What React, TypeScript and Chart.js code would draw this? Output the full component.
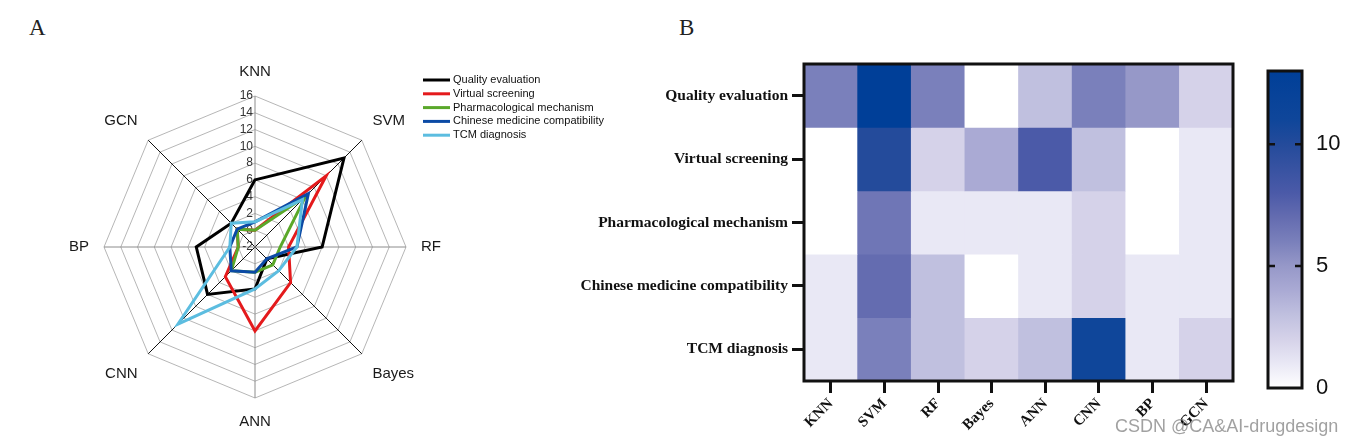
import React, { useEffect, useRef } from 'react';
import { Chart, registerables } from 'chart.js';

Chart.register(...registerables);

const SANS = "'Liberation Sans', Arial, sans-serif";
const SERIF = "'Liberation Serif', 'Times New Roman', serif";
Chart.defaults.font.family = SANS;

// ---------------- data ----------------
const methods = ['KNN', 'SVM', 'RF', 'Bayes', 'ANN', 'CNN', 'BP', 'GCN'];
const seriesNames = [
  'Quality evaluation',
  'Virtual screening',
  'Pharmacological mechanism',
  'Chinese medicine compatibility',
  'TCM diagnosis',
];
const qualityEvaluation = [6, 13, 6, 0, 3, 6, 5, 2];
const virtualScreening = [0, 10, 2, 4, 8, 3, 0, 1];
const pharmacologicalMechanism = [0, 6.5, 1, 1, 1, 2, 0, 1];
const medicineCompatibility = [1, 7, 3, 0, 1, 2, 1, 1];
const tcmDiagnosis = [1, 6, 3, 2, 3, 11, 1, 2];
const seriesValues = [
  qualityEvaluation,
  virtualScreening,
  pharmacologicalMechanism,
  medicineCompatibility,
  tcmDiagnosis,
];
const radarTicks = [-2, 0, 2, 4, 6, 8, 10, 12, 14, 16];
const colorbarTicks = [0, 5, 10];
const colorbarMax = 13;

// ---------------- styles ----------------
const seriesColors = ['#000000', '#e41a1c', '#5aa82a', '#0b4aa5', '#5cbde0'];
const colorStops: [number, string][] = [
  [0, '#ffffff'],
  [1, '#e9e8f5'],
  [2, '#d5d2e9'],
  [3, '#c0c0df'],
  [4, '#aaaad4'],
  [5, '#9698c8'],
  [6, '#7a80bb'],
  [7, '#646cb0'],
  [8, '#4b5aa8'],
  [10, '#244b9b'],
  [11, '#0f469a'],
  [13, '#003f98'],
];

function hexToRgb(h: string) {
  const n = parseInt(h.slice(1), 16);
  return [(n >> 16) & 255, (n >> 8) & 255, n & 255];
}
function heatColor(v: number) {
  if (v <= colorStops[0][0]) return colorStops[0][1];
  for (let i = 1; i < colorStops.length; i++) {
    const [v1, c1] = colorStops[i];
    if (v <= v1) {
      const [v0, c0] = colorStops[i - 1];
      const t = (v - v0) / (v1 - v0);
      const a = hexToRgb(c0);
      const b = hexToRgb(c1);
      const m = a.map((x, k) => Math.round(x + (b[k] - x) * t));
      return `rgb(${m[0]},${m[1]},${m[2]})`;
    }
  }
  return colorStops[colorStops.length - 1][1];
}

// ---------------- plugins ----------------
const radarTickPlugin = {
  id: 'radarTickLabels',
  beforeDatasetsDraw(chart: any) {
    const s = chart.scales.r;
    const ctx = chart.ctx;
    ctx.save();
    ctx.font = `12px ${SANS}`;
    ctx.fillStyle = '#333';
    ctx.textAlign = 'right';
    ctx.textBaseline = 'middle';
    radarTicks.forEach((v) => {
      const d = s.getDistanceFromCenterForValue(v);
      ctx.fillText(String(v), s.xCenter - 2, s.yCenter - d);
    });
    ctx.restore();
  },
};

const radarLegendPlugin = {
  id: 'radarLegend',
  afterDraw(chart: any) {
    const ctx = chart.ctx;
    ctx.save();
    ctx.font = `11px ${SANS}`;
    ctx.textBaseline = 'middle';
    ctx.textAlign = 'left';
    chart.data.datasets.forEach((ds: any, i: number) => {
      const y = 80 + i * 13.8;
      ctx.strokeStyle = ds.borderColor;
      ctx.lineWidth = 3;
      ctx.beginPath();
      ctx.moveTo(423, y);
      ctx.lineTo(450, y);
      ctx.stroke();
      ctx.fillStyle = '#111';
      ctx.fillText(ds.label, 453, y);
    });
    ctx.restore();
  },
};

const boxPlugin = {
  id: 'heatBox',
  afterDatasetsDraw(chart: any) {
    const { ctx, chartArea: a } = chart;
    ctx.save();
    ctx.lineWidth = 3;
    ctx.strokeStyle = '#111';
    ctx.strokeRect(a.left, a.top, a.right - a.left, a.bottom - a.top);
    ctx.restore();
  },
};

const colorbarFramePlugin = {
  id: 'colorbarFrame',
  afterDatasetsDraw(chart: any) {
    const { ctx, chartArea: a } = chart;
    const y = chart.scales.y;
    ctx.save();
    ctx.strokeStyle = '#111';
    ctx.lineWidth = 2.5;
    colorbarTicks
      .filter((v) => v > 0 && v < colorbarMax)
      .forEach((v) => {
        const py = y.getPixelForValue(v);
        ctx.beginPath();
        ctx.moveTo(a.left, py);
        ctx.lineTo(a.left + 7, py);
        ctx.moveTo(a.right - 7, py);
        ctx.lineTo(a.right, py);
        ctx.stroke();
      });
    ctx.lineWidth = 3;
    ctx.strokeRect(a.left, a.top, a.right - a.left, a.bottom - a.top);
    ctx.restore();
  },
};

export default function App() {
  const radarRef = useRef<HTMLCanvasElement>(null);
  const heatRef = useRef<HTMLCanvasElement>(null);
  const barRef = useRef<HTMLCanvasElement>(null);

  useEffect(() => {
    const radar = new Chart(radarRef.current as HTMLCanvasElement, {
      type: 'radar',
      data: {
        labels: methods,
        datasets: seriesNames.map((name, i) => ({
          label: name,
          data: seriesValues[i],
          borderColor: seriesColors[i],
          backgroundColor: 'transparent',
          borderWidth: 3,
          fill: false,
          pointRadius: 0,
          pointHoverRadius: 0,
          order: seriesNames.length - 1 - i,
        })),
      },
      options: {
        responsive: false,
        animation: false,
        events: [],
        layout: { padding: { top: 63, bottom: 14, left: 0, right: 110 } },
        plugins: { legend: { display: false }, tooltip: { enabled: false } },
        scales: {
          r: {
            min: -2,
            max: 16,
            ticks: { stepSize: 2, display: false },
            grid: { color: '#a3a3a3', lineWidth: 0.8 },
            angleLines: {
              color: (c: any) => (c.index % 2 === 1 ? '#111' : '#8c8c8c'),
              lineWidth: 1,
            },
            pointLabels: { padding: 15, color: '#1a1a1a', font: { family: SANS, size: 15 } },
          },
        },
      } as any,
      plugins: [radarTickPlugin, radarLegendPlugin],
    });

    const tickGrid = {
      drawOnChartArea: false,
      drawTicks: true,
      tickLength: 12,
      lineWidth: 3,
      color: '#111',
    };

    const heat = new Chart(heatRef.current as HTMLCanvasElement, {
      type: 'bar',
      data: {
        labels: methods,
        datasets: seriesNames.map((name, r) => ({
          label: name,
          data: methods.map(() => [r, r + 1]),
          backgroundColor: seriesValues[r].map(heatColor),
          borderWidth: 0,
          barPercentage: 1,
          categoryPercentage: 1,
          grouped: false,
        })),
      } as any,
      options: {
        responsive: false,
        animation: false,
        events: [],
        layout: { padding: { top: 64, right: 7, bottom: 0, left: 0 } },
        plugins: { legend: { display: false }, tooltip: { enabled: false } },
        scales: {
          x: {
            offset: true,
            grid: { ...tickGrid, offset: false },
            border: { display: false },
            ticks: {
              autoSkip: false,
              minRotation: 45,
              maxRotation: 45,
              padding: 2,
              color: '#111',
              font: { family: SERIF, size: 15, weight: 'bold' },
            },
            afterFit: (axis: any) => {
              axis.height = 64;
            },
          },
          y: {
            type: 'linear',
            min: 0,
            max: seriesNames.length,
            reverse: true,
            afterBuildTicks: (axis: any) => {
              axis.ticks = seriesNames.map((_, i) => ({ value: i + 0.5 }));
            },
            grid: tickGrid,
            border: { display: false },
            ticks: {
              callback: (_v: any, i: number) => seriesNames[i],
              padding: 4,
              color: '#111',
              font: { family: SERIF, size: 15.5, weight: 'bold' },
            },
            afterFit: (axis: any) => {
              axis.width = 244;
            },
          },
        },
      } as any,
      plugins: [boxPlugin],
    });

    const bar = new Chart(barRef.current as HTMLCanvasElement, {
      type: 'bar',
      data: {
        labels: [''],
        datasets: [
          {
            data: [[0, colorbarMax]],
            backgroundColor: (c: any) => {
              const ch = c.chart;
              if (!ch.chartArea) return '#ffffff';
              const y = ch.scales.y;
              const g = ch.ctx.createLinearGradient(0, y.getPixelForValue(0), 0, y.getPixelForValue(colorbarMax));
              colorStops.forEach(([v, col]) => g.addColorStop(v / colorbarMax, col));
              return g;
            },
            borderWidth: 0,
            barPercentage: 1,
            categoryPercentage: 1,
          },
        ],
      } as any,
      options: {
        responsive: false,
        animation: false,
        events: [],
        layout: { padding: { top: 71, bottom: 57, left: 28, right: 0 } },
        plugins: { legend: { display: false }, tooltip: { enabled: false } },
        scales: {
          x: { display: false },
          y: {
            position: 'right',
            min: 0,
            max: colorbarMax,
            afterBuildTicks: (axis: any) => {
              axis.ticks = colorbarTicks.map((v) => ({ value: v }));
            },
            grid: { display: false, drawTicks: false },
            border: { display: false },
            ticks: { padding: 14, color: '#111', font: { family: SANS, size: 22 } },
            afterFit: (axis: any) => {
              axis.width = 53;
            },
          },
        },
      } as any,
      plugins: [colorbarFramePlugin],
    });

    return () => {
      radar.destroy();
      heat.destroy();
      bar.destroy();
    };
  }, []);

  const panelLabel: React.CSSProperties = {
    position: 'absolute',
    top: 16,
    font: `23px ${SERIF}`,
    lineHeight: 1,
    color: '#222',
  };

  return (
    <div
      style={{
        position: 'fixed',
        left: 0,
        top: 0,
        width: 1355,
        height: 445,
        background: '#ffffff',
        overflow: 'hidden',
      }}
    >
      <div style={{ ...panelLabel, left: 29 }}>A</div>
      <div style={{ ...panelLabel, left: 679 }}>B</div>
      <canvas ref={radarRef} width={620} height={445} style={{ position: 'absolute', left: 0, top: 0 }} />
      <canvas ref={heatRef} width={680} height={445} style={{ position: 'absolute', left: 560, top: 0 }} />
      <canvas ref={barRef} width={115} height={445} style={{ position: 'absolute', left: 1240, top: 0 }} />
      <div
        style={{
          position: 'absolute',
          left: 1115,
          top: 417,
          font: `18px ${SANS}`,
          lineHeight: 1,
          color: 'rgba(130,130,130,0.75)',
          whiteSpace: 'nowrap',
        }}
      >
        CSDN @CA&amp;AI-drugdesign
      </div>
    </div>
  );
}
